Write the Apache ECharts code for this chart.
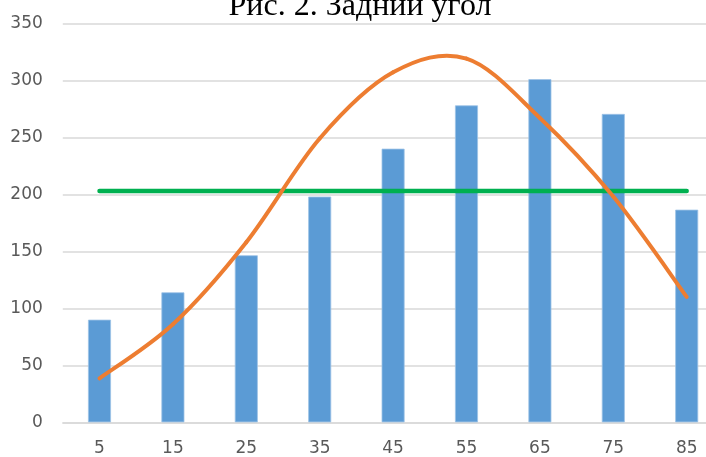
<!DOCTYPE html>
<html>
<head>
<meta charset="utf-8">
<script src="https://cdn.jsdelivr.net/npm/echarts@6/dist/echarts.min.js"></script>
<style>
html,body{margin:0;padding:0;background:#fff;}
#chart{width:706px;height:457px;}
</style>
</head>
<body>
<div id="chart"></div>
<script>
const titleText = 'Рис. 2. Задний угол';
const categories = ['5','15','25','35','45','55','65','75','85'];
const barValues = [90, 114, 146.5, 198, 240, 278, 301, 270.5, 186.5];
const meanValues = [203, 203, 203, 203, 203, 203, 203, 203, 203];
const curveValues = [38.5, 86, 158, 249, 307, 319, 267, 198, 110];
const yTicks = {min: 0, max: 350, interval: 50};

const chart = echarts.init(document.getElementById('chart'), null, {renderer: 'canvas'});
const labelFont = {color: '#595959', fontFamily: 'DejaVu Sans', fontSize: 17};

// Excel-like smoothed line: each segment i -> i+1 drawn as a cubic Bezier
// whose control points come from neighbouring data points (Catmull-Rom, 1/6).
function renderCurveSegment(params, api) {
  const i = params.dataIndexInside;
  const n = params.dataInsideLength;
  if (i >= n - 1) return null;
  const pt = function (k) {
    k = Math.max(0, Math.min(n - 1, k));
    return api.coord([api.value(0, k), api.value(1, k)]);
  };
  const p0 = pt(i - 1), p1 = pt(i), p2 = pt(i + 1), p3 = pt(i + 2);
  return {
    type: 'bezierCurve',
    shape: {
      x1: p1[0], y1: p1[1],
      x2: p2[0], y2: p2[1],
      cpx1: p1[0] + (p2[0] - p0[0]) / 6,
      cpy1: p1[1] + (p2[1] - p0[1]) / 6,
      cpx2: p2[0] - (p3[0] - p1[0]) / 6,
      cpy2: p2[1] - (p3[1] - p1[1]) / 6
    },
    style: {stroke: '#ED7D31', lineWidth: 4, fill: null, lineCap: 'round'}
  };
}

chart.setOption({
  animation: false,
  backgroundColor: '#ffffff',
  graphic: [{
    type: 'text',
    x: 360,
    y: -9,
    z: 10,
    style: {
      text: titleText,
      fill: '#000',
      font: '32px "Liberation Serif"',
      textAlign: 'center',
      textVerticalAlign: 'top'
    }
  }],
  grid: {left: 62.8, right: -17.4, top: 23.3, bottom: 34.7, containLabel: false, outerBoundsMode: 'none'},
  xAxis: {
    type: 'category',
    data: categories,
    boundaryGap: true,
    axisTick: {show: false},
    axisLine: {lineStyle: {color: '#D9D9D9', width: 1.5}},
    axisLabel: Object.assign({margin: 18}, labelFont)
  },
  yAxis: {
    type: 'value',
    min: yTicks.min, max: yTicks.max, interval: yTicks.interval,
    axisLine: {show: false},
    axisTick: {show: false},
    splitLine: {lineStyle: {color: '#D9D9D9', width: 1.5}},
    axisLabel: Object.assign({margin: 20}, labelFont)
  },
  series: [
    {
      type: 'bar',
      data: barValues,
      barWidth: 23,
      itemStyle: {color: '#5B9BD5', borderColor: '#9DC3E6', borderWidth: 0.8},
      z: 1
    },
    {
      type: 'line',
      data: meanValues,
      showSymbol: false,
      lineStyle: {color: '#00B050', width: 4.5, cap: 'round'},
      z: 2
    },
    {
      type: 'custom',
      data: curveValues.map(function (v, i) { return [i, v]; }),
      encode: {x: 0, y: 1},
      renderItem: renderCurveSegment,
      clip: false,
      z: 3
    }
  ]
});
</script>
</body>
</html>
